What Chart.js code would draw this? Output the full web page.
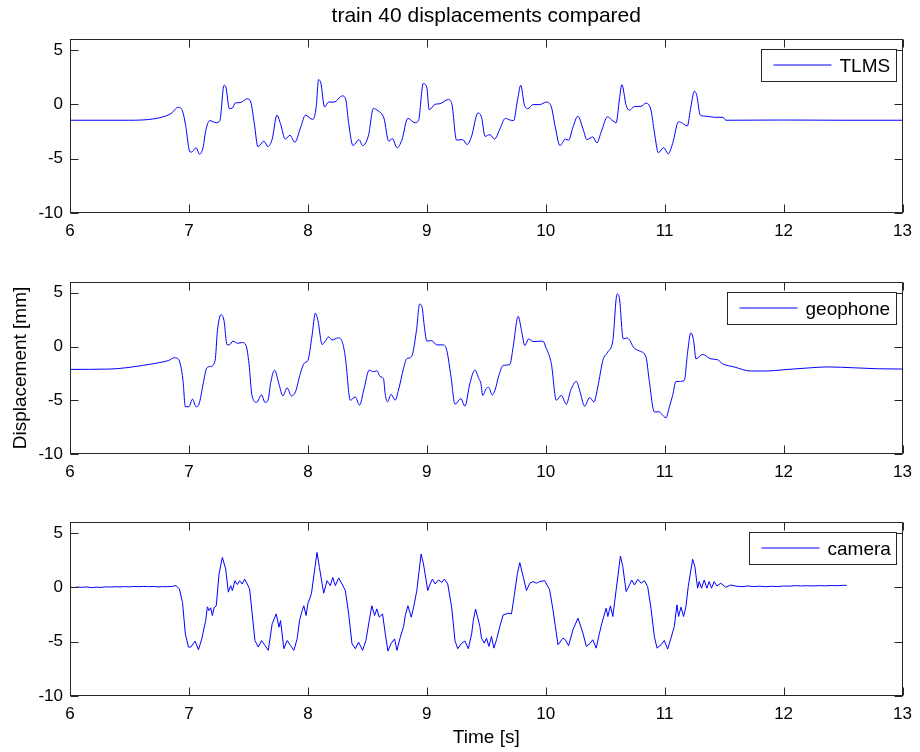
<!DOCTYPE html>
<html>
<head>
<meta charset="utf-8">
<script src="https://cdn.jsdelivr.net/npm/chart.js@4"></script>
<style>
  body { margin: 0; width: 920px; height: 752px; background: #fff; position: relative; overflow: hidden; }
  canvas { position: absolute; left: 0; }
</style>
</head>
<body>
<canvas id="c1" width="920" height="243" style="top:0px"></canvas>
<canvas id="c2" width="920" height="241" style="top:243px"></canvas>
<canvas id="c3" width="920" height="268" style="top:484px"></canvas>
<script>
// --- tick labels shared by all three panels ---
const X_TICKS = [6, 7, 8, 9, 10, 11, 12, 13];
const Y_TICKS = [-10, -5, 0, 5];

// --- TLMS displacement ---
const tlmsT = [6.00, 6.50, 6.60, 6.70, 6.80, 6.85, 6.91, 6.945, 6.97, 7.01, 7.03, 7.06, 7.09, 7.12, 7.14, 7.175,
  7.23, 7.26, 7.295, 7.31, 7.34, 7.365, 7.39, 7.43, 7.49, 7.52, 7.55, 7.58, 7.63, 7.665, 7.70, 7.74, 7.77, 7.81,
  7.85, 7.89, 7.94, 7.98, 8.04, 8.07, 8.09, 8.11, 8.14, 8.175, 8.22, 8.29, 8.32, 8.34, 8.38, 8.43, 8.46, 8.51,
  8.55, 8.59, 8.64, 8.68, 8.71, 8.75, 8.79, 8.84, 8.90, 8.93, 8.97, 8.999, 9.02, 9.07, 9.11, 9.18, 9.21, 9.25,
  9.30, 9.34, 9.375, 9.43, 9.46, 9.49, 9.53, 9.57, 9.615, 9.66, 9.70, 9.73, 9.762, 9.79, 9.82, 9.85, 9.894, 9.95,
  10.005, 10.047, 10.08, 10.12, 10.165, 10.192, 10.229, 10.27, 10.313, 10.346, 10.396, 10.43, 10.466, 10.52,
  10.556, 10.592, 10.62, 10.64, 10.676, 10.704, 10.746, 10.80, 10.843, 10.885, 10.913, 10.947, 10.991, 11.03,
  11.067, 11.117, 11.15, 11.19, 11.22, 11.25, 11.27, 11.299, 11.35, 11.42, 11.49, 11.515, 12.0, 12.5, 13.0];
const tlmsV = [-1.47, -1.47, -1.45, -1.35, -1.1, -0.85, -0.28, -0.6, -1.8, -4.4, -4.35, -4.0, -4.6, -3.9, -2.5, -1.5,
  -1.7, -1.5, 1.75, 1.6, -0.4, -0.35, 0.12, 0.15, 0.5, 0.2, -1.8, -3.9, -3.4, -3.9, -3.2, -1.0, -1.8, -3.2,
  -2.85, -3.5, -2.1, -1.0, -1.4, -0.25, 2.27, 1.9, -0.25, 0.2, 0.2, 0.77, 0.37, -1.5, -3.8, -3.25, -3.8, -2.85,
  -0.4, -0.6, -1.3, -3.4, -3.15, -4.0, -3.3, -1.3, -1.7, -1.5, 1.9, 1.6, -0.5, 0.0, 0.05, 0.43, 0.05, -3.3,
  -3.25, -3.7, -3.0, -0.8, -1.2, -2.95, -2.8, -3.2, -2.25, -1.3, -1.45, -1.5, 0.35, 1.75, -0.05, -0.4, -0.03, -0.03,
  0.2, -0.25, -2.1, -3.8, -3.2, -3.3, -2.1, -1.1, -2.25, -3.25, -3.0, -3.55, -2.55, -1.15,
  -1.45, -1.7, 0.5, 1.8, -0.1, -0.55, -0.2, -0.2, 0.1, -0.55, -2.55, -4.45, -4.0, -4.55,
  -3.6, -1.6, -1.75, -2.0, -0.25, 1.2, 0.8, -1.0, -1.1, -1.2, -1.2, -1.47, -1.45, -1.47, -1.47];

// --- geophone displacement (middle panel) ---
const geoT = [6.00, 6.33, 6.47, 6.61, 6.75, 6.83, 6.876, 6.91, 6.93, 6.95, 6.97, 7.0, 7.03, 7.06, 7.085, 7.12,
  7.15, 7.183, 7.22, 7.24, 7.27, 7.295, 7.32, 7.34, 7.37, 7.41, 7.45, 7.48, 7.505, 7.53, 7.57, 7.61, 7.64, 7.665,
  7.686, 7.72, 7.756, 7.79, 7.825, 7.862, 7.896, 7.937, 7.97, 8.0, 8.035, 8.063, 8.085, 8.12, 8.147, 8.175, 8.203,
  8.253, 8.29, 8.315, 8.357, 8.398, 8.435, 8.47, 8.516, 8.553, 8.58, 8.608, 8.636, 8.65, 8.67, 8.70, 8.734, 8.762,
  8.804, 8.83, 8.872, 8.913, 8.94, 8.96, 8.98, 9.0, 9.04, 9.084, 9.14, 9.168, 9.204, 9.237, 9.287, 9.32, 9.362,
  9.404, 9.438, 9.455, 9.47, 9.50, 9.52, 9.55, 9.572, 9.606, 9.642, 9.698, 9.726, 9.768, 9.796, 9.824, 9.857,
  9.894, 9.977, 10.0, 10.047, 10.089, 10.131, 10.173, 10.21, 10.257, 10.285, 10.327, 10.369, 10.405, 10.438,
  10.48, 10.522, 10.564, 10.60, 10.618, 10.652, 10.68, 10.708, 10.736, 10.79, 10.843, 10.87, 10.913, 10.955,
  10.975, 11.011, 11.04, 11.067, 11.095, 11.123, 11.165, 11.193, 11.22, 11.243, 11.263, 11.318, 11.388, 11.444,
  11.486, 11.584, 11.724, 11.863, 12.0, 12.227, 12.366, 12.59, 12.79, 13.0];
const geoV = [-2.13, -2.1, -1.98, -1.76, -1.5, -1.3, -1.05, -1.15, -1.76, -3.15, -5.6, -5.6, -4.9, -5.6, -5.35, -3.45,
  -2.0, -1.85, -1.3, 1.5, 2.96, 2.4, 0.18, 0.15, 0.5, 0.3, 0.37, 0.1, -1.6, -4.55, -5.2, -4.5, -5.2, -5.0,
  -3.45, -2.2, -3.45, -4.6, -3.85, -4.6, -4.2, -2.5, -1.55, -1.3, 1.0, 3.1, 2.4, 0.18, 0.5, 0.9, 0.6,
  0.8, 0.4, -1.0, -5.0, -4.7, -5.45, -4.05, -2.2, -2.35, -2.25, -2.8, -3.0, -4.4, -5.15, -4.45, -5.0, -4.05,
  -2.07, -1.15, -0.93, 1.5, 3.95, 3.65, 1.8, 0.5, 0.55, 0.15, 0.15, -0.37, -2.85, -5.37, -4.85, -5.55, -3.45,
  -2.2, -3.0, -3.45, -4.55, -3.9, -3.8, -4.5, -4.1, -2.7, -1.76, -1.67, -0.05, 2.8, 1.5, 0.1, 0.7,
  0.46, 0.5, -0.05, -1.6, -5.0, -4.55, -5.37, -4.07, -3.25, -4.07, -5.55, -4.75, -5.15, -3.75,
  -1.3, -0.5, 0.55, 4.88, 4.57, 0.7, 0.8, 0.55, -0.05, -0.43, -0.99, -3.15, -6.08, -6.08,
  -6.3, -6.63, -5.6, -4.55, -3.25, -3.25, -3.15, -0.52, 1.27, 0.56, -1.15, -0.74, -1.15, -1.23,
  -1.6, -1.9, -2.28, -2.28, -2.16, -1.98, -1.9, -1.98, -2.07, -2.1];

// --- camera displacement (bottom panel, ends at 12.53 s) ---
const camT = [6.00, 6.03, 6.07, 6.10, 6.14, 6.18, 6.22, 6.26, 6.30, 6.34, 6.38, 6.42, 6.46, 6.50, 6.54, 6.58,
  6.62, 6.66, 6.70, 6.74, 6.78, 6.82, 6.86, 6.89, 6.92, 6.946, 6.97, 6.996, 7.016, 7.052, 7.08, 7.108, 7.141,
  7.155, 7.169, 7.183, 7.197, 7.211, 7.23, 7.253, 7.281, 7.309, 7.331, 7.351, 7.365, 7.387, 7.407, 7.426, 7.448,
  7.468, 7.49, 7.51, 7.532, 7.555, 7.583, 7.611, 7.639, 7.667, 7.70, 7.734, 7.757, 7.77, 7.798, 7.826, 7.854,
  7.882, 7.91, 7.93, 7.952, 7.966, 7.985, 8.0, 8.03, 8.052, 8.077, 8.097, 8.133, 8.161, 8.189, 8.209, 8.231,
  8.259, 8.287, 8.315, 8.343, 8.371, 8.399, 8.427, 8.46, 8.488, 8.516, 8.538, 8.561, 8.58, 8.60, 8.628, 8.651,
  8.673, 8.701, 8.729, 8.749, 8.777, 8.805, 8.819, 8.841, 8.869, 8.888, 8.916, 8.952, 8.972, 9.008, 9.028, 9.047,
  9.07, 9.098, 9.126, 9.148, 9.176, 9.209, 9.237, 9.26, 9.293, 9.321, 9.349, 9.377, 9.391, 9.41, 9.427, 9.446,
  9.46, 9.483, 9.502, 9.522, 9.544, 9.564, 9.586, 9.614, 9.642, 9.684, 9.712, 9.734, 9.762, 9.782, 9.81, 9.838,
  9.866, 9.894, 9.921, 9.949, 9.991, 10.033, 10.061, 10.081, 10.103, 10.145, 10.165, 10.192, 10.229, 10.271,
  10.313, 10.341, 10.374, 10.396, 10.424, 10.452, 10.472, 10.508, 10.522, 10.544, 10.564, 10.592, 10.628, 10.648,
  10.676, 10.704, 10.723, 10.746, 10.774, 10.802, 10.83, 10.857, 10.885, 10.913, 10.936, 10.969, 10.997, 11.025,
  11.053, 11.081, 11.103, 11.117, 11.137, 11.159, 11.179, 11.198, 11.235, 11.254, 11.277, 11.29, 11.31, 11.332,
  11.355, 11.374, 11.394, 11.416, 11.439, 11.472, 11.514, 11.556, 11.60, 11.65, 11.70, 11.75, 11.80, 11.85,
  11.90, 11.95, 12.00, 12.05, 12.10, 12.15, 12.20, 12.25, 12.30, 12.35, 12.40, 12.45, 12.50, 12.53];
const camV = [0.0, -0.03, 0.02, -0.01, 0.03, -0.04, 0.01, -0.02, 0.04, 0.02, 0.05, 0.03, 0.06, 0.04, 0.07, 0.05,
  0.08, 0.05, 0.07, 0.04, 0.06, 0.05, 0.08, 0.15, -0.15, -1.4, -4.3, -5.5, -5.5, -4.95, -5.75, -4.75, -3.05,
  -1.8, -2.14, -1.9, -2.6, -1.9, -1.7, 1.22, 2.75, 1.68, -0.45, 0.15, -0.3, 0.6, 0.25, 0.6, 0.3,
  0.75, 0.3, -0.15, -2.45, -4.9, -5.5, -4.9, -5.35, -5.8, -3.36, -2.45, -3.67, -3.06, -5.65, -4.9, -5.35,
  -5.8, -4.74, -3.05, -2.14, -1.7, -2.6, -1.5, -0.6, 1.22, 3.2, 1.83, -0.55, 0.6, 0.15, 0.9, 0.15,
  0.86, 0.3, -0.3, -2.45, -5.2, -5.65, -5.05, -5.8, -4.9, -3.06, -1.7, -2.6, -1.99, -2.75, -2.45, -4.28,
  -5.87, -5.14, -4.75, -5.8, -4.59, -3.6, -2.6, -1.7, -2.75, -1.9, -0.3, 3.05, 2.14, -0.3, 0.3, 0.75,
  0.3, 0.67, 0.45, 0.75, 0.3, -1.83, -4.9, -5.65, -5.14, -4.95, -5.65, -4.28, -3.06, -2.0, -2.75, -3.6,
  -4.68, -5.14, -4.68, -5.44, -4.53, -5.6, -4.83, -3.6, -2.54, -2.39, -2.45, -0.86, 1.28, 2.26, 0.98, -0.3,
  0.37, 0.52, 0.37, 0.52, 0.61, -0.24, -2.08, -3.6, -5.29, -4.68, -4.83, -5.38, -3.91, -2.84,
  -4.22, -5.44, -5.14, -4.83, -5.6, -4.22, -3.3, -1.93, -2.69, -1.71, -2.69, -0.24, 2.87, 1.9,
  -0.4, 0.21, 0.67, 0.21, 0.73, 0.37, 0.61, 0.06, -1.93, -4.53, -5.6, -5.29, -4.89, -5.69,
  -4.68, -3.6, -1.62, -2.69, -1.83, -2.69, -1.77, 0.06, 2.57, 1.9, -0.09, 0.52, -0.09, 0.67,
  -0.09, 0.52, -0.09, 0.52, 0.12, 0.37, 0.0, 0.21, 0.1, 0.05, 0.12, 0.06, 0.1, 0.05,
  0.09, 0.06, 0.12, 0.1, 0.15, 0.12, 0.14, 0.12, 0.15, 0.13, 0.16, 0.14, 0.18, 0.17];

const FONT = '"Liberation Sans", Arial, sans-serif';
const LINE_BLUE = '#0000ff';
const AXIS_COLOR = '#262626';

// MATLAB look: box round the axes, inward ticks on all four sides, legend box in the top right corner
const matlabAxes = {
  id: 'matlabAxes',
  afterDatasetsDraw(chart) {
    const { ctx, chartArea: a, scales: { x, y } } = chart;
    const L = Math.round(a.left) + 0.5, R = Math.round(a.right) - 0.5;
    const T = Math.round(a.top) + 0.5, B = Math.round(a.bottom) - 0.5;
    const tick = 8;
    ctx.save();
    ctx.strokeStyle = AXIS_COLOR;
    ctx.lineWidth = 1;
    ctx.beginPath();
    x.ticks.forEach(t => {
      const px = Math.round(x.getPixelForValue(t.value)) + 0.5;
      ctx.moveTo(px, B); ctx.lineTo(px, B - tick);
      ctx.moveTo(px, T); ctx.lineTo(px, T + tick);
    });
    y.ticks.forEach(t => {
      const py = Math.round(y.getPixelForValue(t.value)) + 0.5;
      ctx.moveTo(L, py); ctx.lineTo(L + tick, py);
      ctx.moveTo(R, py); ctx.lineTo(R - tick, py);
    });
    ctx.stroke();
    ctx.strokeRect(L, T, R - L, B - T);

    // legend
    const label = chart.data.datasets[0].label;
    ctx.font = '19px ' + FONT;
    const tw = ctx.measureText(label).width;
    const w = Math.round(12 + 58 + 8 + tw + 6), h = 32;
    const bx = Math.round(a.right) - 7 - w + 0.5, by = Math.round(a.top) + 10 + 0.5;
    ctx.fillStyle = '#fff';
    ctx.fillRect(bx, by, w, h);
    ctx.strokeStyle = AXIS_COLOR;
    ctx.strokeRect(bx, by, w, h);
    ctx.strokeStyle = LINE_BLUE;
    ctx.beginPath();
    ctx.moveTo(bx + 12, by + 15.5); ctx.lineTo(bx + 70, by + 15.5);
    ctx.stroke();
    ctx.fillStyle = '#000';
    ctx.textBaseline = 'middle';
    ctx.textAlign = 'left';
    ctx.fillText(label, bx + 78, by + 17);
    ctx.restore();
  }
};

function points(ts, vs) {
  return ts.map((t, i) => ({ x: t, y: vs[i] }));
}

function makePanel(canvasId, label, ts, vs, cfg) {
  const scales = {
    x: {
      type: 'linear',
      min: 6, max: 13,
      afterBuildTicks: s => { s.ticks = X_TICKS.map(v => ({ value: v })); },
      afterFit: s => { s.height = cfg.xHeight; },
      grid: { display: false, drawTicks: false },
      border: { display: false },
      ticks: { color: '#000', padding: 8, maxRotation: 0, autoSkip: false, font: { family: FONT, size: 17 } },
      title: {
        display: !!cfg.xTitle,
        text: cfg.xTitle || '',
        color: '#000',
        font: { family: FONT, size: 19 },
        padding: { top: 0, bottom: 3 }
      }
    },
    y: {
      type: 'linear',
      min: -10, max: 6,
      afterBuildTicks: s => { s.ticks = Y_TICKS.map(v => ({ value: v })); },
      afterFit: s => { s.width = 70; },
      grid: { display: false, drawTicks: false },
      border: { display: false },
      ticks: { color: '#000', padding: 7, font: { family: FONT, size: 17 } },
      title: {
        display: !!cfg.yTitle,
        text: cfg.yTitle || '',
        color: '#000',
        font: { family: FONT, size: 19 },
        padding: { top: 9, bottom: 0 }
      }
    }
  };
  if (cfg.title) {
    // empty top axis, used only to centre the figure title over the plot area
    scales.xTop = {
      type: 'linear',
      position: 'top',
      min: 6, max: 13,
      afterFit: s => { s.height = 39; },
      grid: { display: false, drawTicks: false },
      border: { display: false },
      ticks: { display: false },
      title: {
        display: true,
        text: cfg.title,
        color: '#000',
        font: { family: FONT, size: 21 },
        padding: { top: 4, bottom: 0 }
      }
    };
  }
  return new Chart(document.getElementById(canvasId), {
    type: 'line',
    data: {
      datasets: [{
        label: label,
        data: points(ts, vs),
        borderColor: LINE_BLUE,
        borderWidth: 1,
        pointRadius: 0,
        cubicInterpolationMode: cfg.smooth ? 'monotone' : 'default',
        tension: 0,
        fill: false
      }]
    },
    options: {
      responsive: false,
      animation: false,
      layout: { padding: { top: cfg.padTop, right: 15, bottom: 0, left: 0 } },
      scales: scales,
      plugins: {
        legend: { display: false },
        tooltip: { enabled: false }
      }
    },
    plugins: [matlabAxes]
  });
}

makePanel('c1', 'TLMS', tlmsT, tlmsV, { padTop: 0, xHeight: 30, smooth: true, title: 'train 40 displacements compared' });
makePanel('c2', 'geophone', geoT, geoV, { padTop: 39, xHeight: 30, smooth: true, yTitle: 'Displacement [mm]' });
makePanel('c3', 'camera', camT, camV, { padTop: 38, xHeight: 56, smooth: false, xTitle: 'Time [s]' });
</script>
</body>
</html>
